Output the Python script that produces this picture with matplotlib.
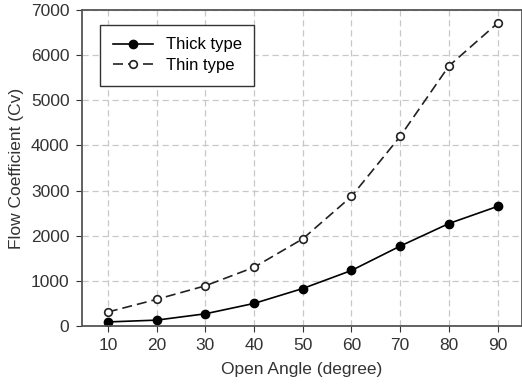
import matplotlib.pyplot as plt

plt.rcParams['font.family'] = ['Liberation Sans', 'DejaVu Sans']

angles = [10, 20, 30, 40, 50, 60, 70, 80, 90]
thick = [90, 130, 270, 500, 830, 1230, 1770, 2270, 2650]
thin = [310, 590, 890, 1300, 1930, 2870, 4200, 5760, 6710]

fig = plt.figure(figsize=(5.22, 3.92), dpi=100)
ax = fig.add_axes([82 / 522, 66 / 392, 1 - 82 / 522, (326 - 10) / 392])

ax.grid(True, color='#c8c8c8', linestyle=(0, (5, 3)), linewidth=0.9)
ax.set_axisbelow(True)

ax.plot(angles, thick, '-o', color='black', linewidth=1.2,
        markersize=6, label='Thick type')
ax.plot(angles, thin, '--o', color='#222222', linewidth=1.2, dashes=(6, 3),
        markersize=5.5, markerfacecolor='white', markeredgewidth=1.2,
        label='Thin type')

ax.set_xlim(4.7, 95)
ax.set_ylim(0, 7000)
ax.set_xticks(angles)
ax.set_yticks(range(0, 7001, 1000))
ax.tick_params(direction='out', length=4, labelsize=12.5, colors='#333333', pad=5)
for s in ax.spines.values():
    s.set_color('#555555')
    s.set_linewidth(1.3)

ax.set_xlabel('Open Angle (degree)', fontsize=12.5, color='#333333', labelpad=6)
ax.set_ylabel('Flow Coefficient (Cv)', fontsize=12.5, color='#333333', labelpad=5)

leg = ax.legend(loc='upper left', bbox_to_anchor=(0.041, 0.953), fontsize=12,
                fancybox=False, edgecolor='#333333', framealpha=1,
                handlelength=2.4, borderpad=0.75, labelspacing=0.35,
                borderaxespad=0)
leg.get_frame().set_linewidth(1.0)

fig.savefig('out.png', dpi=100)
